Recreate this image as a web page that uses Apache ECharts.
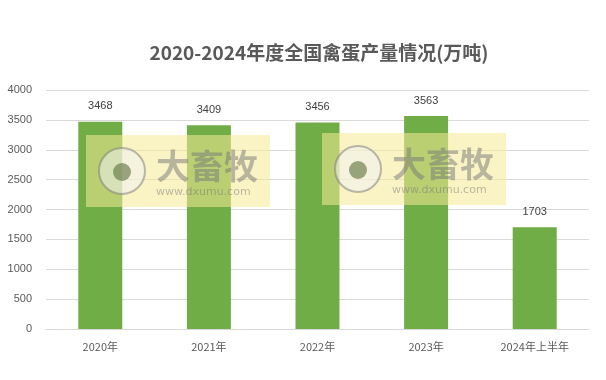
<!DOCTYPE html>
<html><head><meta charset="utf-8">
<script src="https://cdn.jsdelivr.net/npm/echarts@6/dist/echarts.min.js"></script>
<style>html,body{margin:0;padding:0;background:#fff}#c{width:606px;height:380px}</style>
</head><body><div id="c"></div>
<script>
const categories = ['2020年','2021年','2022年','2023年','2024年上半年'];
const values = [3468, 3409, 3456, 3563, 1703];
const yTicks = [0, 500, 1000, 1500, 2000, 2500, 3000, 3500, 4000];

function watermark(x, y) {
  const z = 100;
  return {
    type: 'group', left: x, top: y, z: z,
    children: [
      {type: 'rect', z: z, shape: {x: 0, y: 0, width: 184, height: 72}, style: {fill: 'rgba(245,235,150,0.55)'}},
      {type: 'circle', z: z + 1, shape: {cx: 36, cy: 36, r: 23}, style: {fill: 'rgba(240,240,240,0.55)', stroke: 'rgba(120,120,120,0.5)', lineWidth: 2}},
      {type: 'circle', z: z + 2, shape: {cx: 36, cy: 37, r: 9}, style: {fill: 'rgba(90,110,60,0.6)'}},
      {type: 'text', z: z + 1, style: {x: 70, y: 14, text: '大畜牧', font: 'bold 34px "Noto Sans CJK SC"', fill: 'rgba(120,120,120,0.5)'}},
      {type: 'text', z: z + 1, style: {x: 70, y: 52, text: 'www.dxumu.com', font: '11px "DejaVu Sans"', fill: 'rgba(120,120,120,0.5)'}}
    ]
  };
}

const chart = echarts.init(document.getElementById('c'));
chart.setOption({
  animation: false,
  title: {
    text: '2020-2024年度全国禽蛋产量情况(万吨)',
    left: 314, top: 38, textAlign: 'center',
    textStyle: {fontSize: 19, fontWeight: 'bold', color: '#595959', fontFamily: '"Noto Sans CJK SC", sans-serif'}
  },
  grid: {left: 46, right: 17, top: 90, bottom: 51, containLabel: false},
  xAxis: {
    type: 'category', data: categories,
    axisLine: {lineStyle: {color: '#d9d9d9'}},
    axisTick: {show: false},
    axisLabel: {color: '#595959', fontSize: 11, margin: 12, fontFamily: '"Noto Sans CJK SC", sans-serif'}
  },
  yAxis: {
    type: 'value', min: yTicks[0], max: yTicks[yTicks.length - 1], interval: 500,
    axisLine: {show: false}, axisTick: {show: false},
    axisLabel: {color: '#595959', fontSize: 11, margin: 14, fontFamily: '"Liberation Sans", sans-serif', formatter: v => String(v)},
    splitLine: {lineStyle: {color: '#d9d9d9'}}
  },
  series: [{
    type: 'bar', data: values, barWidth: 44,
    itemStyle: {color: '#70ad47'},
    label: {show: true, position: 'top', distance: 10, color: '#404040', fontSize: 11, fontFamily: '"Liberation Sans", sans-serif'}
  }],
  graphic: [watermark(86, 135), watermark(322, 133)]
});
</script></body></html>
